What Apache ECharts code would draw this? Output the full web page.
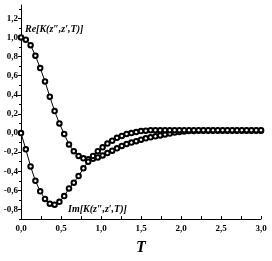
<!DOCTYPE html>
<html>
<head>
<meta charset="utf-8">
<script src="https://cdn.jsdelivr.net/npm/echarts@6/dist/echarts.min.js"></script>
<style>
  html, body { margin: 0; padding: 0; background: #fff; }
  #chart { width: 272px; height: 261px; }
</style>
</head>
<body>
<div id="chart"></div>
<script>
// T sampled every 0.06 from 0 to 3
const tValues = [0, 0.06, 0.12, 0.18, 0.24, 0.30, 0.36, 0.42, 0.48, 0.54,
    0.60, 0.66, 0.72, 0.78, 0.84, 0.90, 0.96, 1.02, 1.08, 1.14,
    1.20, 1.26, 1.32, 1.38, 1.44, 1.50, 1.56, 1.62, 1.68, 1.74,
    1.80, 1.86, 1.92, 1.98, 2.04, 2.10, 2.16, 2.22, 2.28, 2.34,
    2.40, 2.46, 2.52, 2.58, 2.64, 2.70, 2.76, 2.82, 2.88, 2.94, 3.00];

const reValues = [1.00, 0.977, 0.92, 0.81, 0.68, 0.54, 0.38, 0.23, 0.10, -0.01,
    -0.12, -0.19, -0.24, -0.265, -0.275, -0.27, -0.255, -0.235, -0.21, -0.185,
    -0.16, -0.135, -0.115, -0.10, -0.085, -0.07, -0.055, -0.045, -0.035, -0.025,
    -0.015, -0.005, 0.005, 0.01, 0.015, 0.02, 0.02, 0.025, 0.025, 0.025,
    0.025, 0.025, 0.025, 0.025, 0.025, 0.025, 0.025, 0.025, 0.025, 0.025, 0.025];

const imValues = [0.00, -0.17, -0.35, -0.50, -0.61, -0.69, -0.74, -0.75, -0.72, -0.66,
    -0.58, -0.52, -0.45, -0.37, -0.30, -0.24, -0.19, -0.15, -0.11, -0.08,
    -0.05, -0.03, -0.01, 0.00, 0.01, 0.02, 0.025, 0.03, 0.03, 0.03,
    0.03, 0.03, 0.03, 0.03, 0.03, 0.03, 0.03, 0.03, 0.03, 0.03,
    0.03, 0.03, 0.03, 0.03, 0.03, 0.03, 0.03, 0.03, 0.03, 0.03, 0.03];

const yTickLabels = [-0.8, -0.6, -0.4, -0.2, 0, 0.2, 0.4, 0.6, 0.8, 1.0, 1.2];
const yMinorTicks = [-0.9, -0.7, -0.5, -0.3, -0.1, 0.1, 0.3, 0.5, 0.7, 0.9, 1.1, 1.3];

const serif = '"Liberation Serif", "DejaVu Serif", serif';

function comma(v) {
    return v.toFixed(1).replace('.', ',');
}

let chart = echarts.init(document.getElementById('chart'));

let option = {
    animation: false,
    grid: { left: 21, right: 11, top: 5, bottom: 38 },
    xAxis: {
        type: 'value',
        min: 0,
        max: 3,
        interval: 0.5,
        name: 'T',
        nameLocation: 'middle',
        nameGap: 21,
        nameTextStyle: { fontFamily: serif, fontWeight: 'bold', fontStyle: 'italic', fontSize: 16, color: '#000' },
        axisLine: { onZero: false, lineStyle: { color: '#000', width: 1 } },
        axisTick: { inside: true, length: 3, lineStyle: { color: '#000' } },
        minorTick: { show: true, splitNumber: 2, length: 3, lineStyle: { color: '#000' } },
        splitLine: { show: false },
        axisLabel: {
            margin: 5,
            fontFamily: serif, fontWeight: 'bold', fontSize: 9, color: '#000',
            formatter: comma
        }
    },
    yAxis: [
        {
            type: 'value',
            min: -0.9,
            max: 1.34,
            axisLine: { show: true, onZero: false, lineStyle: { color: '#000', width: 1 } },
            axisTick: { show: true, length: 3, customValues: yTickLabels, lineStyle: { color: '#000' } },
            splitLine: { show: false },
            axisLabel: {
                margin: 3,
                customValues: yTickLabels,
                fontFamily: serif, fontWeight: 'bold', fontSize: 9, color: '#000',
                formatter: comma
            }
        },
        {
            type: 'value',
            min: -0.9,
            max: 1.34,
            position: 'left',
            axisLine: { show: false },
            axisTick: { show: true, length: 2, customValues: yMinorTicks, lineStyle: { color: '#000' } },
            splitLine: { show: false },
            axisLabel: { show: false }
        }
    ],
    graphic: [
        {
            type: 'text', left: 25, top: 24,
            style: { text: 'Re[K(z\u2033,z\u2032,T)]', font: 'italic bold 10px ' + serif, fill: '#000' }
        },
        {
            type: 'text', left: 68, top: 204,
            style: { text: 'Im[K(z\u2033,z\u2032,T)]', font: 'italic bold 10px ' + serif, fill: '#000' }
        }
    ],
    series: [
        {
            name: 'Re',
            type: 'line',
            data: tValues.map((t, i) => [t, reValues[i]]),
            symbol: 'emptyCircle',
            symbolSize: 4.5,
            showAllSymbol: true,
            lineStyle: { color: '#000', width: 1 },
            itemStyle: { color: '#000', borderColor: '#000', borderWidth: 0.7 }
        },
        {
            name: 'Im',
            type: 'line',
            data: tValues.map((t, i) => [t, imValues[i]]),
            symbol: 'emptyCircle',
            symbolSize: 4.5,
            showAllSymbol: true,
            lineStyle: { color: '#000', width: 1 },
            itemStyle: { color: '#000', borderColor: '#000', borderWidth: 0.7 }
        }
    ]
};

option && chart.setOption(option);
</script>
</body>
</html>
